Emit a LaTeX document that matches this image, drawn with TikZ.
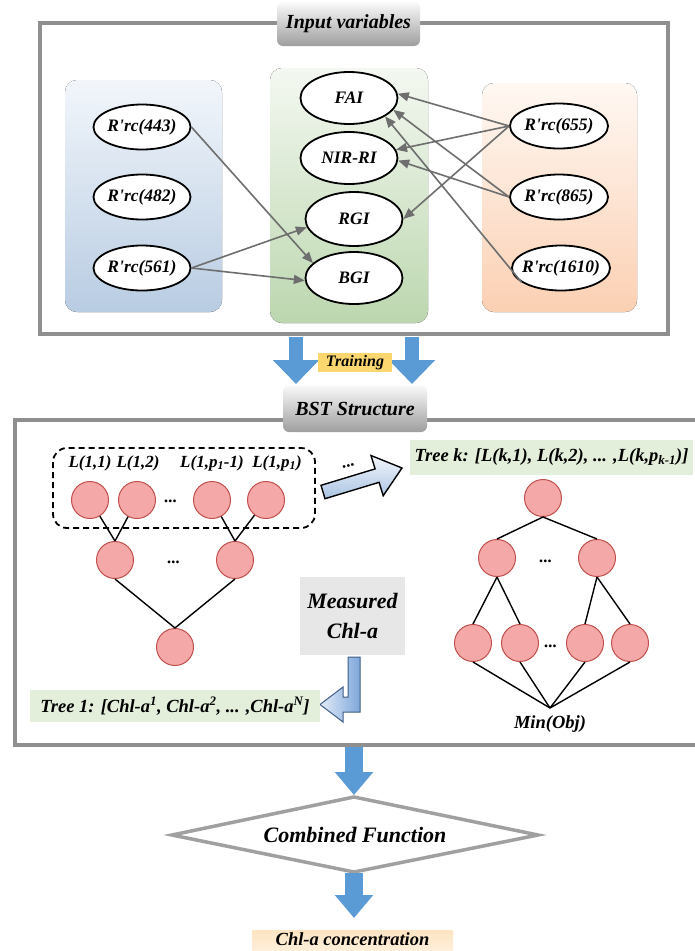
\documentclass[tikz,border=0pt]{standalone}
\usepackage{fontspec}
\setmainfont{Liberation Serif}
\usetikzlibrary{shapes.geometric,arrows.meta}
\definecolor{boxgray}{HTML}{8F8F8F}
\definecolor{tabtop}{HTML}{FAFAFA}
\definecolor{tabbot}{HTML}{9E9E9E}
\definecolor{arrgray}{HTML}{6E6E6E}
\definecolor{pkfill}{HTML}{F5A8A8}
\definecolor{pkborder}{HTML}{C0504D}
\definecolor{arrblue}{HTML}{5B9BD5}
\definecolor{bluetop}{HTML}{F2F6FB}
\definecolor{bluebot}{HTML}{B8CCE2}
\definecolor{greentop}{HTML}{F4F8F1}
\definecolor{greenbot}{HTML}{BCD7AF}
\definecolor{orangetop}{HTML}{FFF8F3}
\definecolor{orangebot}{HTML}{FBD0B3}
\definecolor{treegreen}{HTML}{E3EEDB}
\definecolor{measgray}{HTML}{E7E7E7}
\definecolor{trainyellow}{HTML}{FCD770}
\definecolor{conctop}{HTML}{FDE4C2}
\definecolor{concbot}{HTML}{FFF6EA}
\definecolor{diagray}{HTML}{A0A0A0}
\definecolor{holtop}{HTML}{F3F6FB}
\definecolor{holbot}{HTML}{A9C3E3}
\definecolor{bentl}{HTML}{E3ECF8}
\definecolor{bentr}{HTML}{7EA7DA}
\definecolor{bentdraw}{HTML}{3D5D86}
\newcommand\fnell{\fontsize{17.5}{20}\selectfont\bfseries\itshape}
\newcommand\fnlab{\fontsize{17}{20}\selectfont\bfseries\itshape}
\newcommand\fntree{\fontsize{18.5}{21}\selectfont\bfseries\itshape}
\newcommand\fntitle{\fontsize{20}{23}\selectfont\bfseries\itshape}
\newcommand\fnmeas{\fontsize{22}{30}\selectfont\bfseries\itshape}
\newcommand\fnbig{\fontsize{22}{26}\selectfont\bfseries\itshape}
\newcommand\fntrain{\fontsize{16}{18}\selectfont\bfseries\itshape}
\newcommand\fnconc{\fontsize{18.5}{21}\selectfont\bfseries\itshape}
\newcommand\q{\textquotesingle}
\tikzset{
  gbox/.style={draw=boxgray, line width=3.5pt},
  tab/.style={rounded corners=6pt, top color=tabtop, bottom color=tabbot, inner sep=0pt, font=\fntitle},
  panel/.style={rounded corners=12pt},
  ell/.style={ellipse, draw, line width=1.8pt, fill=white, inner sep=0pt},
  sell/.style={ell, minimum width=97pt, minimum height=45pt},
  mell/.style={ell, minimum width=97pt, minimum height=52pt},
  garr/.style={draw=arrgray, line width=1.6pt, -{Triangle[length=11pt,width=9pt]}},
  pk/.style={circle, draw=pkborder, fill=pkfill, line width=1pt, minimum size=37pt, inner sep=0pt},
  tl/.style={line width=1.4pt},
  bluearr/.style={draw=arrblue, line width=14pt, -{Triangle[length=24pt,width=45pt]}},
  bluearrb/.style={draw=arrblue, line width=18pt, -{Triangle[length=23pt,width=37pt]}},
  treebox/.style={fill=treegreen, inner sep=0pt, font=\fntree},
  dots/.style={font=\fnlab}
}
\begin{document}
\begin{tikzpicture}[x=1pt,y=-1pt]
\useasboundingbox (0,0) rectangle (695,951);
\clip (0,0) rectangle (695,951);

% ---------------- top section ----------------
\fill[panel, top color=bluetop, bottom color=bluebot] (65,80) rectangle (222,312);
\fill[panel, top color=greentop, bottom color=greenbot] (270,68) rectangle (428,323);
\fill[panel, top color=orangetop, bottom color=orangebot] (482,83) rectangle (637,312);

\draw[gbox] (40,23) rectangle (668,334);
\node[tab, minimum width=143pt, minimum height=44pt] (tabin) at (348.5,24) {Input variables};

\node[sell, label={[font=\fnell]center:R\q rc(443)}] (e443) at (142,127) {};
\node[sell, label={[font=\fnell]center:R\q rc(482)}] (e482) at (142,197) {};
\node[sell, label={[font=\fnell]center:R\q rc(561)}] (e561) at (142,268) {};

\node[mell, label={[font=\fnell]center:FAI}] (fai) at (349,98) {};
\node[mell, label={[font=\fnell]center:NIR-RI}] (nir) at (349,158) {};
\node[mell, minimum height=54pt, label={[font=\fnell]center:RGI}] (rgi) at (354,219) {};
\node[mell, label={[font=\fnell]center:BGI}] (bgi) at (354,278) {};

\node[sell, minimum width=98pt, label={[font=\fnell]center:R\q rc(655)}] (e655) at (559,126) {};
\node[sell, minimum width=98pt, label={[font=\fnell]center:R\q rc(865)}] (e865) at (559,197) {};
\node[sell, minimum width=98pt, label={[font=\fnell]center:R\q rc(1610)}] (e1610) at (561,268) {};

\draw[garr] (e443.east) -- (bgi.160);
\draw[garr] (e561.east) -- (rgi.190);
\draw[garr] (e561.east) -- (bgi.183);
\draw[garr] (e655.west) -- (fai.5);
\draw[garr] (e655.west) -- (nir.10);
\draw[garr] (e655.west) -- (rgi.east);
\draw[garr] (e865.west) -- (fai.-15);
\draw[garr] (e865.west) -- (nir.-3);
\draw[garr] (e1610.200) -- (fai.-27);

% ---------------- training arrows ----------------
\coordinate (a1s) at (296,337);
\coordinate (a1e) at (296,384);
\coordinate (a2s) at (412,337);
\coordinate (a2e) at (412,384);
\draw[bluearr] (a1s) -- (a1e);
\draw[bluearr] (a2s) -- (a2e);
\node[fill=trainyellow, minimum width=74pt, minimum height=19pt, inner sep=0pt, font=\fntrain] (train) at (355,362.5) {Training};

% ---------------- BST section ----------------
\draw[gbox] (15,420) rectangle (710,745);
\node[tab, minimum width=144pt, minimum height=47pt] (tabbst) at (355,408.5) {BST Structure};

\draw[dashed, line width=1.8pt, dash pattern=on 6pt off 4pt, rounded corners=14pt] (53,448) rectangle (315,528);

\node[font=\fnlab] (l11) at (90,463) {L(1,1)};
\node[font=\fnlab] (l12) at (138,463) {L(1,2)};
\node[font=\fnlab] (l13) at (212,463) {L(1,p\textsubscript{1}-1)};
\node[font=\fnlab] (l14) at (277,463) {L(1,p\textsubscript{1})};

\node[pk] (c11) at (90,500) {};
\node[pk] (c12) at (137,500) {};
\node[pk] (c13) at (212,500) {};
\node[pk] (c14) at (266,500) {};
\node[dots] (d1) at (171,501) {...};
\node[pk] (m1) at (115,560) {};
\node[pk] (m2) at (235,560) {};
\node[dots] (d2) at (174,562) {...};
\node[pk] (b1) at (175,647) {};

\draw[tl] (c11) -- (m1.north);
\draw[tl] (c12) -- (m1.north);
\draw[tl] (c13) -- (m2.north);
\draw[tl] (c14) -- (m2.north);
\draw[tl] (m1.south) -- (b1.north);
\draw[tl] (m2.south) -- (b1.north);

% hollow arrow
\draw[line width=1.4pt, top color=holtop, bottom color=holbot]
  (321.0,485.3) -- (375.1,468.9) -- (371.0,455.5) -- (402,468) -- (383.2,495.7) -- (379.1,482.3) -- (325.0,498.7) -- cycle;
\node[dots, rotate=17] (d3) at (349,466) {...};

\node[treebox, minimum width=283pt, minimum height=35pt] (treek) at (551.5,457.5) {Tree k: [L(k,1), L(k,2), ... ,L(k,p\textsubscript{k-1})]};

% right tree
\node[pk] (t0) at (543,498) {};
\node[pk] (r1) at (497,558) {};
\node[pk] (r2) at (597,558) {};
\node[dots] (d4) at (546,561) {...};
\node[pk] (q1) at (473,643) {};
\node[pk] (q2) at (520,643) {};
\node[pk] (q3) at (585,643) {};
\node[pk] (q4) at (630,643) {};
\node[dots] (d5) at (551,646) {...};
\coordinate (mp) at (550,708);
\node[font=\fntree] (minobj) at (550,724) {Min(Obj)};

\draw[tl] (t0.south) -- (r1.north);
\draw[tl] (t0.south) -- (r2.north);
\draw[tl] (r1.south) -- (q1.north);
\draw[tl] (r1.south) -- (q2.north);
\draw[tl] (r2.south) -- (q3.north);
\draw[tl] (r2.south) -- (q4.north);
\draw[tl] (q1.south) -- (mp);
\draw[tl] (q2.south) -- (mp);
\draw[tl] (q3.south) -- (mp);
\draw[tl] (q4.south) -- (mp);

% measured
\node[fill=measgray, minimum width=105pt, minimum height=78pt, inner sep=0pt, align=center, font=\fnmeas] (meas) at (352.5,616) {Measured\\Chl-a};

% bent arrow
\draw[line width=1pt, draw=bentdraw, left color=bentl, right color=bentr]
  (348,657) -- (360,657) -- (360,712) -- (343,712) -- (343,722) -- (320,704.5) -- (343,687) -- (343,697) -- (348,697) -- cycle;

\node[treebox, minimum width=290pt, minimum height=32pt] (tree1) at (175,706) {Tree 1: [Chl-a\textsuperscript{1}, Chl-a\textsuperscript{2}, ... ,Chl-a\textsuperscript{N}]};

% ---------------- bottom ----------------
\coordinate (a3s) at (354,747);
\coordinate (a3e) at (354,795);
\draw[bluearrb] (a3s) -- (a3e);

\coordinate (dl) at (172,835);
\coordinate (dt) at (354,797);
\coordinate (dr) at (538,835);
\coordinate (db) at (354,872);
\draw[line width=3.5pt, draw=diagray, fill=white, line join=miter] (dl) -- (dt) -- (dr) -- (db) -- cycle;
\node[font=\fnbig] (comb) at (355,835) {Combined Function};

\node[top color=conctop, bottom color=concbot, minimum width=201pt, minimum height=34pt, inner sep=0pt] (concbox) at (352.5,947) {};
\node[font=\fnconc] (conc) at (352.5,939) {Chl-a concentration};
\coordinate (a4s) at (354,873);
\coordinate (a4e) at (354,918);
\draw[bluearrb] (a4s) -- (a4e);
\end{tikzpicture}
\end{document}
